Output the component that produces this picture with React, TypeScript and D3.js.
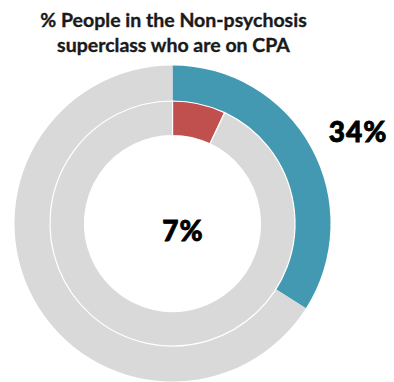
import React from "react";
import * as d3 from "d3";

const titleLines = ["% People in the Non-psychosis", "superclass who are on CPA"];
const ringNames = ["Superclass on CPA", "Non-psychosis superclass on CPA"];
const ringValues = [34, 7];
const ringColors = ["#4299B1", "#C0504D"];
const restColor = "#D9D9D9";

export default function App() {
  const W = 394, H = 382;
  const cx = 172.5, cy = 223.5;
  const radii = [[122.5, 158], [88, 122.5]];
  const pie = d3.pie<number>().sort(null).startAngle(0).endAngle(2 * Math.PI);
  return (
    <svg width={W} height={H} style={{ position: "absolute", left: 0, top: 0 }}
      fontFamily="Lato, 'Open Sans', sans-serif">
      {titleLines.map((t, i) => (
        <text key={t} x={173.5} y={26.5 + i * 25} textAnchor="middle" fontSize={19.5} fontWeight="bold" fill="#1a1a1a"
          stroke="#1a1a1a" strokeWidth={0.35}>{t}</text>
      ))}
      <g transform={`translate(${cx},${cy})`}>
        {ringValues.map((v, ri) => {
          const arcs = pie([v, 100 - v]);
          const arc = d3.arc<d3.PieArcDatum<number>>().innerRadius(radii[ri][0]).outerRadius(radii[ri][1]);
          return (
            <g key={ringNames[ri]}>
              {arcs.map((a, j) => (
                <path key={j} d={arc(a) || ""} fill={j === 0 ? ringColors[ri] : restColor}
                  stroke={ri === 1 ? "#fff" : "none"} strokeWidth={1.2} />
              ))}
            </g>
          );
        })}
        <text x={10.5} y={17} textAnchor="middle" fontSize={28} fontWeight={900} fill="#000"
          stroke="#000" strokeWidth={0.8} letterSpacing={1}>{ringValues[1]}%</text>
      </g>
      <text x={358} y={142} textAnchor="middle" fontSize={28} fontWeight={900} fill="#000"
        stroke="#000" strokeWidth={0.8} letterSpacing={1}>{ringValues[0]}%</text>
    </svg>
  );
}
